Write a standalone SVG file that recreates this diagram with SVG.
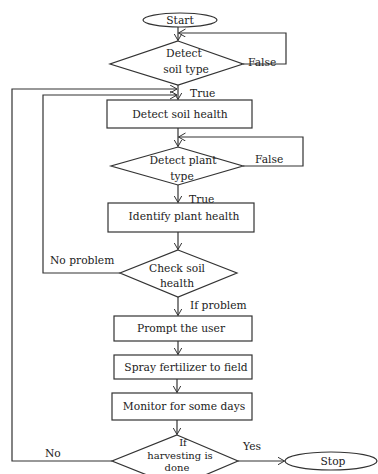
<svg xmlns="http://www.w3.org/2000/svg" width="378" height="474" viewBox="0 0 378 474">
<style>
.s{fill:#fff;stroke:#333;stroke-width:1.2}
.c{fill:none;stroke:#333;stroke-width:1.2}
text{font-family:"DejaVu Serif","Liberation Serif",serif;font-size:10.7px;fill:#222}
.m{text-anchor:middle}
.sm{font-size:10px}
</style>
<defs>
<marker id="a" markerWidth="10" markerHeight="10" refX="7" refY="4" orient="auto" markerUnits="userSpaceOnUse">
<path d="M0,0 L7,4 L0,8" fill="none" stroke="#333" stroke-width="1"/>
</marker>
</defs>
<rect width="378" height="474" fill="#fff"/>
<g id="connectors">
<path class="c" d="M178,27 V40.5" marker-end="url(#a)"/>
<path class="c" d="M243,64 H286 V33 H178.5" marker-end="url(#a)"/>
<path class="c" d="M178,85 V99.5" marker-end="url(#a)"/>
<path class="c" d="M112,461 H12 V89 H177" marker-end="url(#a)"/>
<path class="c" d="M120,273 H43 V95 H177" marker-end="url(#a)"/>
<path class="c" d="M178,128 V146.5" marker-end="url(#a)"/>
<path class="c" d="M243,166 H303 V137 H178.5" marker-end="url(#a)"/>
<path class="c" d="M178,185 V202.5" marker-end="url(#a)"/>
<path class="c" d="M178,232 V249.5" marker-end="url(#a)"/>
<path class="c" d="M178,297 V315.5" marker-end="url(#a)"/>
<path class="c" d="M178,341 V354.5" marker-end="url(#a)"/>
<path class="c" d="M177,379 V392.5" marker-end="url(#a)"/>
<path class="c" d="M177,420 V434.5" marker-end="url(#a)"/>
<path class="c" d="M238,461 H284.5" marker-end="url(#a)"/>
<text x="248" y="66">False</text>
<text x="190" y="97">True</text>
<text x="255" y="163">False</text>
<text x="189" y="203">True</text>
<text x="50" y="264">No problem</text>
<text x="190" y="309">If problem</text>
<text x="45" y="457">No</text>
<text x="243" y="450">Yes</text>
</g>
<g id="start">
<ellipse class="s" cx="180" cy="20" rx="37" ry="7"/>
<text class="m" x="180" y="24">Start</text>
</g>
<g id="detect-soil-type">
<polygon class="s" points="178,41 243,64 178,85 110,64"/>
<text class="m" x="184" y="57">Detect</text>
<text class="m" x="186" y="73">soil type</text>
</g>
<g id="detect-soil-health">
<rect class="s" x="107" y="100" width="145" height="28"/>
<text class="m" x="180" y="118">Detect soil health</text>
</g>
<g id="detect-plant-type">
<polygon class="s" points="178,147 243,166 178,185 111,166"/>
<text class="m" x="183" y="164">Detect plant</text>
<text class="m" x="182" y="180">type</text>
</g>
<g id="identify-plant-health">
<rect class="s" x="108" y="203" width="146" height="29"/>
<text class="m" x="184" y="220">Identify plant health</text>
</g>
<g id="check-soil-health">
<polygon class="s" points="178,250 237,273 178,297 120,273"/>
<text class="m" x="177" y="272">Check soil</text>
<text class="m" x="177" y="287">health</text>
</g>
<g id="prompt-user">
<rect class="s" x="114" y="316" width="138" height="25"/>
<text class="m" x="181" y="332">Prompt the user</text>
</g>
<g id="spray">
<rect class="s" x="114" y="355" width="138" height="24"/>
<text class="m" x="186" y="371">Spray fertilizer to field</text>
</g>
<g id="monitor">
<rect class="s" x="112" y="393" width="140" height="27"/>
<text class="m" x="184" y="410">Monitor for some days</text>
</g>
<g id="harvest-check">
<polygon class="s" points="177,435 238,461 177,487 112,461"/>
<text class="m sm" x="183" y="446">If</text>
<text class="m sm" x="180" y="459">harvesting is</text>
<text class="m sm" x="177" y="471">done</text>
</g>
<g id="stop">
<ellipse class="s" cx="331" cy="461" rx="46" ry="9"/>
<text class="m" x="333" y="465">Stop</text>
</g>
</svg>
